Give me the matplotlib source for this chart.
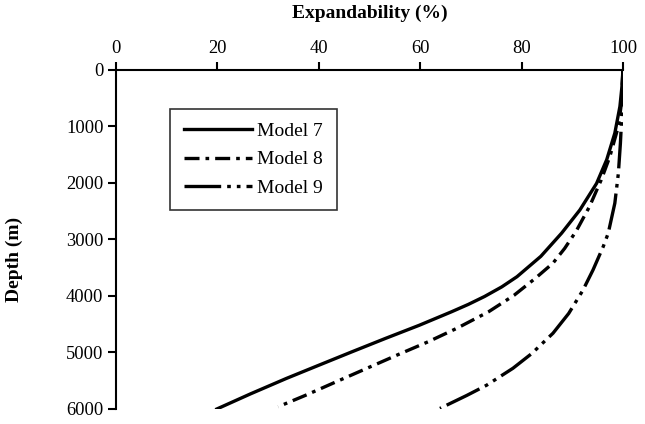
import matplotlib
matplotlib.use('Agg')
import matplotlib.pyplot as plt

plt.rcParams['font.family'] = 'Liberation Serif'

# Depth (m) vs expandability (%)
depth_7 = [0, 300, 650, 1120, 1590, 2010, 2480, 2890, 3300, 3660, 3840, 4010,
           4150, 4280, 4520, 4750, 4990, 5230, 5460, 5730, 6000]
exp_7 = [100, 99.8, 99.4, 98.4, 96.8, 94.8, 91.5, 87.9, 83.8, 79.1, 76.1, 72.7,
         69.5, 66.2, 59.8, 53.2, 46.5, 39.9, 33.6, 26.6, 19.9]

depth_8 = [0, 590, 1000, 1540, 1950, 2420, 2850, 3160, 3420, 3690, 3990, 4280,
           4570, 4810, 5040, 5280, 5520, 5750, 5960]
exp_8 = [100, 99.7, 99.1, 97.4, 95.7, 93.4, 90.8, 88.5, 86.2, 82.7, 78.5, 73.5,
         67.3, 61.6, 55.6, 49.5, 43.4, 37.6, 32.0]

depth_9 = [0, 770, 1300, 1830, 2360, 2890, 3130, 3540, 3900, 4310, 4660, 5020,
           5280, 5580, 5760, 5990]
exp_9 = [100, 99.8, 99.5, 99.1, 98.4, 97.1, 96.1, 94.1, 92.1, 89.3, 86.2, 82.0,
         78.3, 73.1, 69.2, 63.9]

xticks = [0, 20, 40, 60, 80, 100]
yticks = [0, 1000, 2000, 3000, 4000, 5000, 6000]

fig = plt.figure(figsize=(6.45, 4.24), dpi=100)
ax = fig.add_axes([0.1798, 0.0354, 0.786, 0.80])

lw = 2.4
ax.plot(exp_7, depth_7, color='black', lw=lw, label='Model 7')
ax.plot(exp_8, depth_8, color='black', lw=lw,
        linestyle=(0, (4.5, 1.8, 1.1, 1.8)), label='Model 8')
ax.plot(exp_9, depth_9, color='black', lw=lw,
        linestyle=(0, (11, 1.8, 1.1, 1.8, 1.1, 1.8)), label='Model 9')

ax.set_xlim(0, 100)
ax.set_ylim(6000, 0)
ax.xaxis.tick_top()
ax.set_xticks(xticks)
ax.set_yticks(yticks)
ax.tick_params(axis='both', direction='out', length=6, width=1.5,
               labelsize=13.3, colors='black')
ax.tick_params(axis='x', pad=3.5)
ax.tick_params(axis='y', pad=3)

for s in ['right', 'bottom']:
    ax.spines[s].set_visible(False)
for s in ['top', 'left']:
    ax.spines[s].set_linewidth(1.5)

ax.set_xlabel('Expandability (%)', fontsize=14, fontweight='bold')
ax.xaxis.set_label_position('top')
ax.xaxis.set_label_coords(0.5, 1.152)
ax.set_ylabel('Depth (m)', fontsize=14, fontweight='bold')
ax.yaxis.set_label_coords(-0.183, 0.442)

leg = ax.legend(loc='upper left', bbox_to_anchor=(0.1065, 0.885), fontsize=14,
                frameon=True, fancybox=False, edgecolor='black',
                handlelength=3.5, borderpad=0.7, labelspacing=0.55,
                handletextpad=0.3, borderaxespad=0)
leg.get_frame().set_linewidth(1.2)

plt.savefig('out.png', dpi=100)
